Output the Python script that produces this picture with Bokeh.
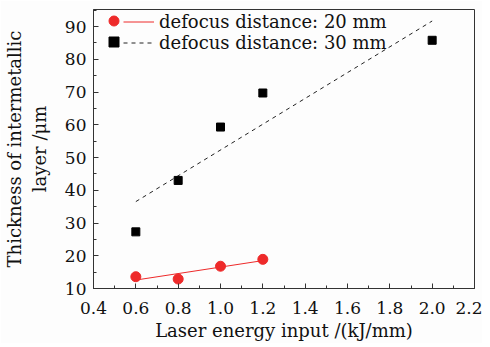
import numpy as np
from bokeh.plotting import figure
from bokeh.models import Legend, LegendItem, FixedTicker, Range1d
from bokeh.embed import file_html
from bokeh.resources import INLINE

x20 = [0.6, 0.8, 1.0, 1.2]
y20 = [13.6, 12.9, 16.8, 18.9]
x30 = [0.6, 0.8, 1.0, 1.2, 2.0]
y30 = [27.3, 43.0, 59.3, 69.7, 85.8]
label20 = "defocus distance: 20 mm"
label30 = "defocus distance: 30 mm"
xticks = [0.4, 0.6, 0.8, 1.0, 1.2, 1.4, 1.6, 1.8, 2.0, 2.2]
yticks = [10, 20, 30, 40, 50, 60, 70, 80, 90]

FONT = "DejaVu Serif"
TFS = "17px"
LFS = "18px"

p = figure(frame_width=381, frame_height=279, output_backend="svg", toolbar_location=None,
           x_range=Range1d(0.4, 2.2), y_range=Range1d(10, 95.2),
           min_border_left=85, min_border_top=9, min_border_right=8, min_border_bottom=45)
p.background_fill_color = "#fdfdfd"
p.border_fill_color = "#fdfdfd"
p.outline_line_color = "#333333"
p.outline_line_width = 1
p.grid.visible = False

for ax in (p.xaxis[0], p.yaxis[0]):
    ax.major_label_text_font = FONT
    ax.major_label_text_font_size = TFS
    ax.major_label_text_color = "#111111"
    ax.axis_label_text_font = FONT
    ax.axis_label_text_font_size = LFS
    ax.axis_label_text_font_style = "normal"
    ax.axis_label_text_color = "#111111"
    ax.axis_line_color = "#333333"
    ax.major_tick_line_color = "#333333"
    ax.minor_tick_line_color = "#333333"
    ax.major_tick_in = 5
    ax.major_tick_out = 0
    ax.minor_tick_in = 3
    ax.minor_tick_out = 0

p.xaxis.ticker = FixedTicker(ticks=xticks, minor_ticks=[0.5, 0.7, 0.9, 1.1, 1.3, 1.5, 1.7, 1.9, 2.1])
p.yaxis.ticker = FixedTicker(ticks=yticks, minor_ticks=[15, 25, 35, 45, 55, 65, 75, 85, 95])
p.xaxis.major_label_overrides = {t: f"{t:.1f}" for t in xticks}
p.xaxis.axis_label = "Laser energy input /(kJ/mm)"
p.yaxis.axis_label = "Thickness of intermetallic\nlayer /\u03bcm"
p.xaxis.major_label_standoff = 13
p.yaxis.major_label_standoff = 7
p.xaxis.axis_label_standoff = 3
p.yaxis.axis_label_standoff = 12

# fit lines
c20 = np.polyfit(x20, y20, 1)
c30 = np.polyfit(x30, y30, 1)
fx20 = np.array([min(x20), max(x20)])
fx30 = np.array([min(x30), max(x30)])
l20 = p.line(fx20, np.polyval(c20, fx20), line_color="#ee2a2a", line_width=1)
l30 = p.line(fx30, np.polyval(c30, fx30), line_color="#222222", line_width=1, line_dash="4 4")

s20 = p.scatter(x20, y20, marker="circle", size=10, fill_color="#ee2a2a", line_color="#ee2a2a")
s30 = p.scatter(x30, y30, marker="square", size=8, fill_color="#000000", line_color="#000000")

common = dict(background_fill_alpha=0, border_line_alpha=0, padding=2, margin=0,
              label_text_font=FONT, label_text_font_size=LFS, label_text_color="#111111",
              spacing=0)
rows = [(s20, l20, label20, 254), (s30, l30, label30, 233)]
for srend, lrend, lab, ypos in rows:
    mk = Legend(items=[LegendItem(label=" ", renderers=[srend])], location=(6, ypos - 1),
                glyph_width=25, glyph_height=25, label_standoff=0, label_width=0, **common)
    ln = Legend(items=[LegendItem(label=lab, renderers=[lrend])], location=(28, ypos),
                glyph_width=31, glyph_height=21, label_standoff=5, **common)
    p.add_layout(mk, "center")
    p.add_layout(ln, "center")

open("out.html", "w").write(file_html(p, INLINE))
